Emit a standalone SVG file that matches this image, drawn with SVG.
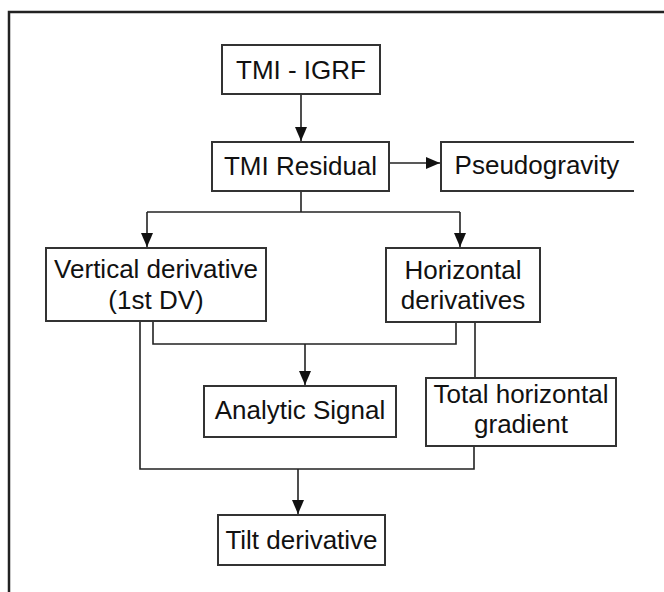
<svg xmlns="http://www.w3.org/2000/svg" width="664" height="592" viewBox="0 0 664 592">
<style>
.box{fill:#fff;stroke:#333;stroke-width:2}
.ln{fill:none;stroke:#222;stroke-width:1.6}
text{font-family:"Liberation Sans",Arial,sans-serif;font-size:26px;fill:#111;text-anchor:middle}
</style>
<defs>
<marker id="ah" markerUnits="userSpaceOnUse" markerWidth="14" markerHeight="12" viewBox="0 0 14 12" refX="14" refY="6" orient="auto">
<path d="M0,0 L14,6 L0,12 Z" fill="#111"/>
</marker>
</defs>
<rect x="0" y="0" width="664" height="592" fill="#fff"/>
<path d="M9,592 V12 H664" fill="none" stroke="#222" stroke-width="2.5"/>
<g id="connectors">
<path class="ln" d="M301,94 V141" marker-end="url(#ah)"/>
<path class="ln" d="M389,163 H440" marker-end="url(#ah)"/>
<path class="ln" d="M301,191 V212"/>
<path class="ln" d="M147,212 H460"/>
<path class="ln" d="M147,212 V247" marker-end="url(#ah)"/>
<path class="ln" d="M460,212 V247" marker-end="url(#ah)"/>
<path class="ln" d="M153,321 V344 H456 V322"/>
<path class="ln" d="M305,344 V385" marker-end="url(#ah)"/>
<path class="ln" d="M475,322 V378"/>
<path class="ln" d="M140,321 V469 H474 V446"/>
<path class="ln" d="M298,469 V514" marker-end="url(#ah)"/>
</g>
<g id="tmi-igrf">
<rect class="box" x="222" y="45" width="158" height="49"/>
<text x="301" y="79">TMI - IGRF</text>
</g>
<g id="tmi-residual">
<rect class="box" x="212" y="142" width="177" height="49"/>
<text x="300.5" y="175">TMI Residual</text>
</g>
<g id="pseudogravity">
<path class="box" d="M634,142 H441 V191 H634"/>
<text x="537" y="174">Pseudogravity</text>
</g>
<g id="vertical-derivative">
<rect class="box" x="46" y="248" width="220" height="73"/>
<text x="156" y="278">Vertical derivative</text>
<text x="156" y="309">(1st DV)</text>
</g>
<g id="horizontal-derivatives">
<rect class="box" x="386" y="248" width="154" height="74"/>
<text x="463" y="279">Horizontal</text>
<text x="463" y="309">derivatives</text>
</g>
<g id="analytic-signal">
<rect class="box" x="204" y="386" width="192" height="51"/>
<text x="300" y="419">Analytic Signal</text>
</g>
<g id="total-horizontal-gradient">
<rect class="box" x="426" y="378" width="190" height="68"/>
<text x="521" y="403">Total horizontal</text>
<text x="521" y="433">gradient</text>
</g>
<g id="tilt-derivative">
<rect class="box" x="218" y="515" width="167" height="50"/>
<text x="301.5" y="549">Tilt derivative</text>
</g>
</svg>
